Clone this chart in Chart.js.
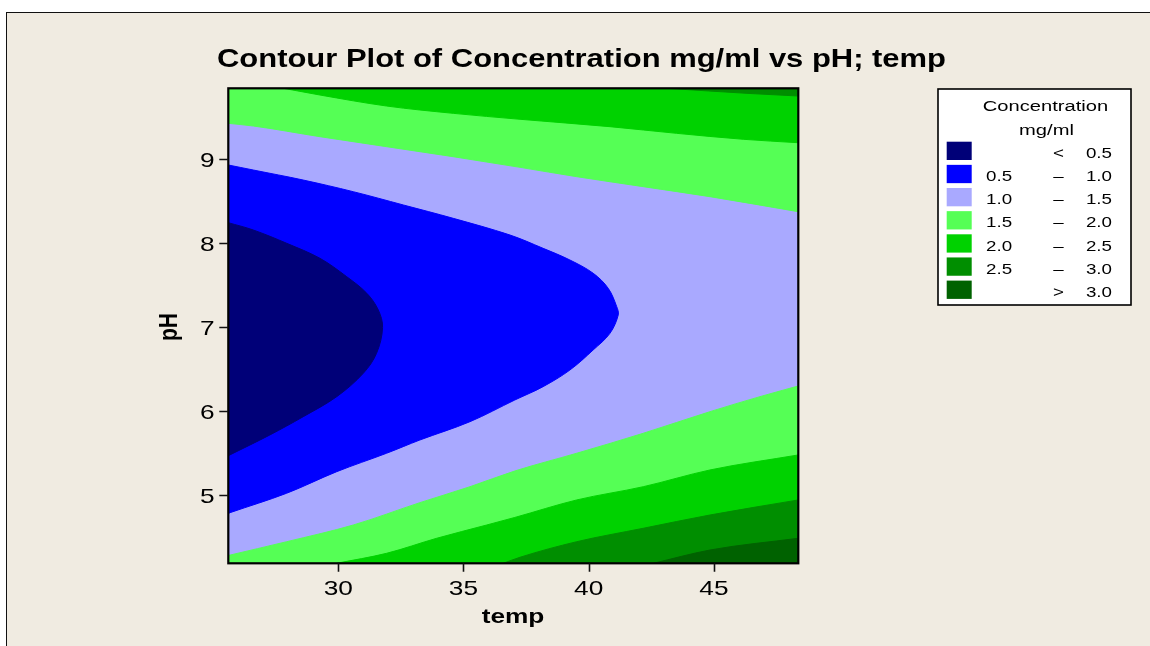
<!DOCTYPE html>
<html><head><meta charset="utf-8">
<script src="https://cdn.jsdelivr.net/npm/chart.js@4"></script>
<style>html,body{margin:0;padding:0;background:#fff}canvas{display:block}</style>
</head><body><canvas id="c" width="1150" height="646"></canvas>
<script>
// ---------- data ----------
const titleText = 'Contour Plot of Concentration mg/ml vs pH; temp';
const xTitle = 'temp';
const yTitle = 'pH';
const xTicks = [30, 35, 40, 45];
const yTicks = [5, 6, 7, 8, 9];
const tempRange = [25.61, 48.37];
const pHRange = [4.187, 9.842];

// upper contour lines (region above each line is the higher band)
const tempTop15 = [25.61, 26.61, 29.27, 31.93, 34.59, 37.26, 39.52, 42.18, 44.84, 48.37];
const pHTop15   = [9.425, 9.393, 9.266, 9.147, 9.028, 8.901, 8.790, 8.671, 8.552, 8.373];
const tempTop20 = [27.81, 29.27, 31.93, 34.59, 37.26, 40.85, 43.51, 46.17, 48.37];
const pHTop20   = [9.842, 9.762, 9.631, 9.544, 9.473, 9.385, 9.306, 9.235, 9.194];
const tempTop25 = [43.12, 46.44, 48.37];
const pHTop25   = [9.842, 9.780, 9.750];

// lower contour lines (region below each line is the higher band)
const tempBot15 = [25.61, 27.94, 30.60, 33.26, 35.26, 37.05, 39.52, 42.18, 44.84, 46.84, 48.37];
const pHBot15   = [4.280, 4.444, 4.643, 4.909, 5.099, 5.286, 5.497, 5.735, 5.992, 6.171, 6.298];
const tempBot20 = [29.94, 31.93, 33.93, 35.93, 37.05, 39.52, 42.18, 44.84, 48.37];
const pHBot20   = [4.187, 4.306, 4.485, 4.643, 4.733, 4.941, 5.099, 5.298, 5.477];
const tempBot25 = [36.59, 37.26, 39.52, 42.18, 44.84, 48.37];
const pHBot25   = [4.187, 4.259, 4.444, 4.604, 4.762, 4.941];
const tempBot30 = [42.58, 44.84, 48.37];
const pHBot30   = [4.187, 4.345, 4.485];

// closed contour 1.0 (blue region inside)
const temp10 = [25.61, 26.61, 28.60, 30.60, 32.60, 34.59, 36.86, 38.18, 39.25, 40.18, 40.78, 41.12, 41.18, 40.85, 40.18, 39.25, 38.18, 37.05, 35.26, 33.26, 31.93, 29.94, 27.94, 25.68, 25.61];
const pH10   = [8.929, 8.869, 8.750, 8.611, 8.453, 8.294, 8.095, 7.937, 7.798, 7.640, 7.461, 7.242, 7.143, 6.925, 6.727, 6.488, 6.290, 6.131, 5.873, 5.655, 5.497, 5.278, 5.021, 4.790, 4.780];
// closed contour 0.5 (navy region inside)
const temp05 = [25.61, 26.61, 27.94, 29.27, 30.34, 31.14, 31.60, 31.77, 31.53, 31.00, 29.94, 28.60, 27.27, 25.61];
const pH05   = [8.242, 8.155, 7.997, 7.818, 7.599, 7.402, 7.203, 6.994, 6.687, 6.449, 6.171, 5.932, 5.715, 5.468];

// legend
const legendTitle = ['Concentration', 'mg/ml'];
const legendLow  = ['', '0.5', '1.0', '1.5', '2.0', '2.5', ''];
const legendOp   = ['<', '–', '–', '–', '–', '–', '>'];
const legendHigh = ['0.5', '1.0', '1.5', '2.0', '2.5', '3.0', '3.0'];

// ---------- styles ----------
const bandColors = ['#000078', '#0000FF', '#A9A9FF', '#55FF55', '#00D200', '#008E00', '#006200'];
const FONT = '"Liberation Sans", Arial, sans-serif';
const SX = 1.25;

function pts(t, p) { return t.map((v, i) => ({x: v, y: p[i]})); }
function ds(t, p, color, fill, order) {
  const closed = fill === 'shape';
  return {data: pts(t, p), showLine: true, fill: fill, backgroundColor: color,
          borderColor: color, borderWidth: 1, pointRadius: 0,
          tension: closed ? 0.35 : 0.4,
          cubicInterpolationMode: closed ? 'default' : 'monotone',
          order: order};
}

const datasets = [
  ds(temp05, pH05, bandColors[0], 'shape', 1),
  ds(temp10, pH10, bandColors[1], 'shape', 2),
  ds(tempBot30, pHBot30, bandColors[6], 'start', 3),
  ds(tempBot25, pHBot25, bandColors[5], 'start', 4),
  ds(tempBot20, pHBot20, bandColors[4], 'start', 5),
  ds(tempBot15, pHBot15, bandColors[3], 'start', 6),
  ds(tempTop25, pHTop25, bandColors[5], 'end', 7),
  ds(tempTop20, pHTop20, bandColors[4], 'end', 8),
  ds(tempTop15, pHTop15, bandColors[3], 'end', 9)
];

function txt(ctx, s, x, y, font, align, baseline, sx, rot) {
  ctx.save();
  ctx.font = font; ctx.fillStyle = '#000';
  ctx.textAlign = align; ctx.textBaseline = baseline;
  ctx.translate(x, y);
  ctx.scale(sx, 1);
  if (rot) ctx.rotate(rot);
  ctx.fillText(s, 0, 0);
  ctx.restore();
}

const decor = {
  id: 'decor',
  beforeDraw(chart) {
    const ctx = chart.ctx;
    ctx.save();
    ctx.fillStyle = '#ffffff'; ctx.fillRect(0, 0, 1150, 646);
    ctx.fillStyle = '#F0EBE1'; ctx.fillRect(7, 13, 1143, 633);
    ctx.strokeStyle = '#111'; ctx.lineWidth = 1;
    ctx.beginPath(); ctx.moveTo(6, 12.5); ctx.lineTo(1150, 12.5);
    ctx.moveTo(6.5, 12); ctx.lineTo(6.5, 646); ctx.stroke();
    ctx.restore();
  },
  beforeDatasetsDraw(chart) {
    const a = chart.chartArea, ctx = chart.ctx;
    ctx.save(); ctx.fillStyle = bandColors[2];
    ctx.fillRect(a.left, a.top, a.right - a.left, a.bottom - a.top);
    ctx.restore();
  },
  afterDatasetsDraw(chart) {
    const a = chart.chartArea, ctx = chart.ctx;
    const xs = chart.scales.x, ys = chart.scales.y;
    ctx.save();
    // frame
    ctx.strokeStyle = '#000'; ctx.lineWidth = 2.2;
    ctx.strokeRect(a.left, a.top, a.right - a.left, a.bottom - a.top);
    // tick marks
    ctx.lineWidth = 1.6; ctx.strokeStyle = '#111';
    ctx.beginPath();
    xTicks.forEach(v => { const px = Math.round(xs.getPixelForValue(v)) + 0.5; ctx.moveTo(px, a.bottom); ctx.lineTo(px, a.bottom + 8.5); });
    yTicks.forEach(v => { const py = Math.round(ys.getPixelForValue(v)) + 0.5; ctx.moveTo(a.left - 9, py); ctx.lineTo(a.left, py); });
    ctx.stroke();
    ctx.restore();
    // tick labels
    const tf = '21px ' + FONT;
    xTicks.forEach(v => txt(ctx, String(v), xs.getPixelForValue(v), 594.5, tf, 'center', 'alphabetic', SX));
    yTicks.forEach(v => txt(ctx, String(v), 214.5, ys.getPixelForValue(v) + 7.5, tf, 'right', 'alphabetic', SX));
    // axis titles
    txt(ctx, xTitle, 513, 622.7, 'bold 21px ' + FONT, 'center', 'alphabetic', SX);
    txt(ctx, yTitle, 176.5, ys.getPixelForValue(7), 'bold 21px ' + FONT, 'center', 'alphabetic', SX, -Math.PI / 2);
    // title fitted to reference width
    ctx.save();
    ctx.font = 'bold 25px ' + FONT;
    const tw = ctx.measureText(titleText).width;
    ctx.restore();
    txt(ctx, titleText, 581.5, 67.3, 'bold 25px ' + FONT, 'center', 'alphabetic', 729 / tw);
    // legend
    ctx.save();
    ctx.fillStyle = '#ffffff';
    ctx.fillRect(938, 89, 193, 216);
    ctx.strokeStyle = '#000'; ctx.lineWidth = 1.6;
    ctx.strokeRect(938, 89, 193, 216);
    ctx.restore();
    const lf = '15px ' + FONT;
    txt(ctx, legendTitle[0], 1045.5, 111, '15.5px ' + FONT, 'center', 'alphabetic', 1.3);
    txt(ctx, legendTitle[1], 1046.5, 134.5, '15.5px ' + FONT, 'center', 'alphabetic', 1.3);
    for (let i = 0; i < legendHigh.length; i++) {
      const top = 141.7 + 23.15 * i;
      ctx.save();
      ctx.fillStyle = bandColors[i];
      ctx.fillRect(946.7, top, 25, 18.3);
      ctx.restore();
      const yb = top + 16.2;
      if (legendLow[i]) txt(ctx, legendLow[i], 986, yb, lf, 'left', 'alphabetic', SX);
      txt(ctx, legendOp[i], 1058.5, yb, lf, 'center', 'alphabetic', SX);
      txt(ctx, legendHigh[i], 1112, yb, lf, 'right', 'alphabetic', SX);
    }
  }
};

new Chart(document.getElementById('c'), {
  type: 'scatter',
  data: {datasets: datasets},
  options: {
    responsive: false, devicePixelRatio: 1, animation: false, events: [],
    layout: {padding: {left: 228.3, right: 351.7, top: 88.3, bottom: 82.7}},
    scales: {
      x: {type: 'linear', min: tempRange[0], max: tempRange[1], display: false},
      y: {type: 'linear', min: pHRange[0], max: pHRange[1], display: false}
    },
    plugins: {legend: {display: false}, tooltip: {enabled: false}, title: {display: false}}
  },
  plugins: [decor]
});
</script></body></html>
